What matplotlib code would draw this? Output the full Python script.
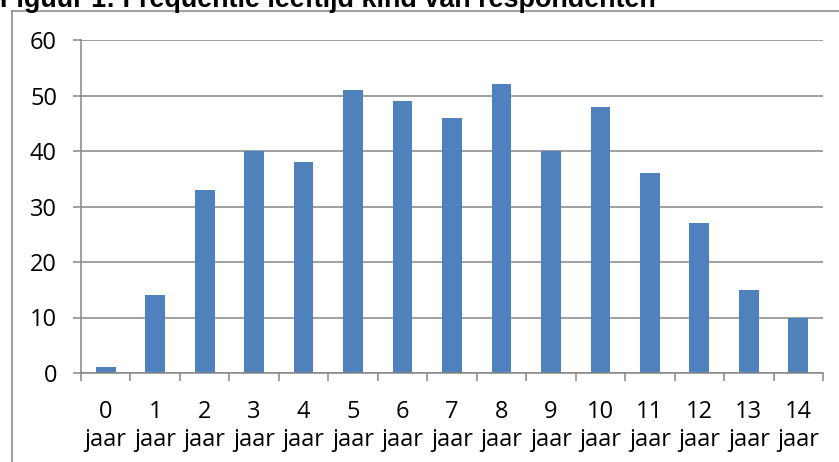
import matplotlib
matplotlib.use("Agg")
import matplotlib.pyplot as plt
from matplotlib.lines import Line2D

title = "Figuur 1: Frequentie leeftijd kind van respondenten"
categories = ["0\njaar", "1\njaar", "2\njaar", "3\njaar", "4\njaar", "5\njaar", "6\njaar",
              "7\njaar", "8\njaar", "9\njaar", "10\njaar", "11\njaar", "12\njaar",
              "13\njaar", "14\njaar"]
values = [1, 14, 33, 40, 38, 51, 49, 46, 52, 40, 48, 36, 27, 15, 10]
yticks = [0, 10, 20, 30, 40, 50, 60]

W, H = 839, 462
PT = 0.72  # points per pixel at 100 dpi
fig = plt.figure(figsize=(W / 100, H / 100), dpi=100)
ax = fig.add_axes([81 / W, 1 - 373 / H, (823 - 81) / W, (373 - 40) / H])

gray = "#868686"
x = list(range(len(values)))
ax.bar(x, values, width=0.4, color="#4F81BD", zorder=3)
ax.set_xlim(-0.5, len(values) - 0.5)
ax.set_ylim(0, 60)
ax.set_yticks(yticks)
ax.set_yticklabels([str(v) for v in yticks])
ax.set_xticks([i - 0.5 for i in range(len(values) + 1)], minor=False)
ax.set_xticklabels([""] * (len(values) + 1))
ax.set_xticks(x, minor=True)
ax.set_xticklabels(categories, minor=True)
ax.tick_params(axis="x", which="major", length=8 * PT, width=1.1, color=gray, direction="out")
ax.tick_params(axis="x", which="minor", length=0, pad=27 * PT, labelsize=17)
ax.tick_params(axis="y", length=8 * PT, width=1.1, color=gray, direction="out",
               pad=16 * PT, labelsize=17)
for lbl in ax.get_xticklabels(minor=True) + ax.get_yticklabels():
    lbl.set_family("Open Sans")
for lbl in ax.get_xticklabels(minor=True):
    lbl.set_linespacing(1.2)
ax.yaxis.grid(True, color=gray, linewidth=1.1, zorder=0)
for s in ["top", "right"]:
    ax.spines[s].set_visible(False)
for s in ["left", "bottom"]:
    ax.spines[s].set_color(gray)
    ax.spines[s].set_linewidth(1.1)
    ax.spines[s].set_zorder(4)

# outer chart border (only top and left visible in crop)
fig.add_artist(Line2D([12 / W, 12 / W], [1 - 11 / H, 0], color=gray, linewidth=1.1,
                      transform=fig.transFigure))
fig.add_artist(Line2D([12 / W, 1], [1 - 11 / H, 1 - 11 / H], color=gray, linewidth=1.1,
                      transform=fig.transFigure))

fig.text(0, 1 - 7 / H, title, fontsize=19.4, fontweight="bold", family="Liberation Sans",
         ha="left", va="baseline")

fig.savefig("out.png", dpi=100)
